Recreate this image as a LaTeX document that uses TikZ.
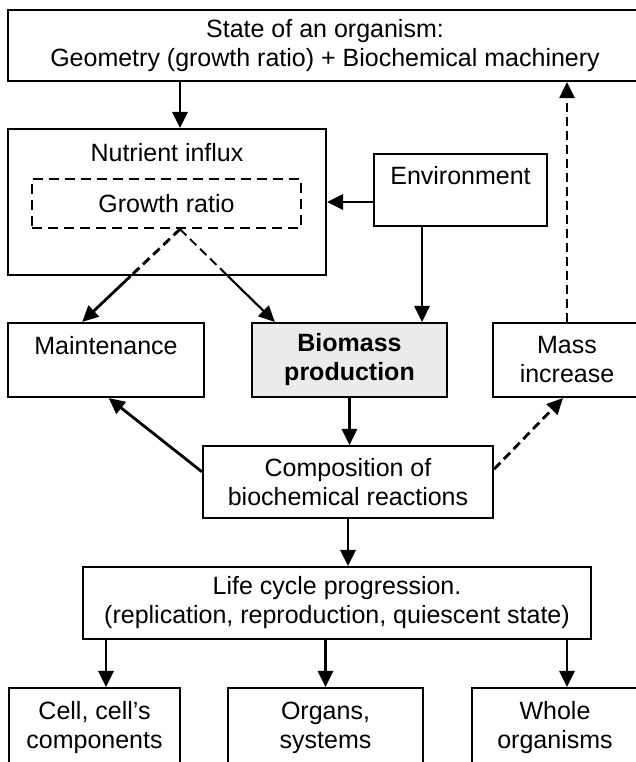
\documentclass[tikz,border=0pt]{standalone}
\usepackage{fontspec}
\setmainfont{Liberation Sans}
\usetikzlibrary{arrows.meta,calc}

\tikzset{
  box/.style={draw, line width=2.1pt, align=center, inner sep=0pt},
  arr/.style={line width=2.8pt, -{Triangle[length=16pt,width=15pt]}},
  dpat/.style={dash pattern=on 9pt off 5pt},
  darr/.style={arr, dpat},
}

\begin{document}
\begin{tikzpicture}[x=1pt,y=-1pt, font=\fontsize{25}{29}\selectfont]
    \useasboundingbox (0,0) rectangle (635,762);

    % top row
    \node[box, minimum width=634pt, minimum height=71pt] (state) at (325,45.5)
        {State of an organism:\\Geometry (growth ratio) + Biochemical machinery};

    % nutrient influx with growth ratio inside
    \node[box, minimum width=318pt, minimum height=146pt] (nut) at (167,202) {};
    \node (nuttxt) at (167,153) {Nutrient influx};
    \node[box, dash pattern=on 10pt off 6pt, line width=2.4pt, minimum width=269pt, minimum height=49pt] (gr) at (166.5,203.5) {Growth ratio};
    \node[box, minimum width=173pt, minimum height=72pt] (env) at (460.5,190) {Environment\\\mbox{}};

    % middle row
    \node[box, minimum width=196pt, minimum height=74pt] (maint) at (106,360) {Maintenance\\\mbox{}};
    \node[box, fill=black!8, font=\fontsize{25}{29}\selectfont\bfseries, minimum width=195pt, minimum height=74pt] (bio) at (349.5,360) {Biomass\\production};
    \node[box, minimum width=148pt, minimum height=74pt] (mass) at (567,360) {Mass\\increase};

    \node[box, minimum width=290pt, minimum height=72pt] (comp) at (348,482) {Composition of\\biochemical reactions};
    \node[box, minimum width=508pt, minimum height=72pt] (life) at (337,603)
        {Life cycle progression.\\(replication, reproduction, quiescent state)};

    % bottom row
    \node[box, minimum width=171pt, minimum height=79pt] (cell) at (94.5,727.5) {Cell, cell’s\\components};
    \node[box, minimum width=195pt, minimum height=79pt] (organ) at (325.5,727.5) {Organs,\\systems};
    \node[box, minimum width=166pt, minimum height=79pt] (whole) at (555,727.5) {Whole\\organisms};

    % connectors
    \coordinate (fork) at ([xshift=13.5pt]gr.south);
    \draw[arr] (state.south -| fork) -- (nut.north -| fork);
    \draw[arr] (env.west |- nut.east) -- (nut.east);
    \draw[arr] ([xshift=-38.5pt]env.south) -- ([xshift=-38.5pt]env.south |- bio.north);

    \coordinate (splitL) at (intersection of fork--maint.122 and nut.south west--nut.south east);
    \coordinate (splitR) at (intersection of fork--bio.153 and nut.south west--nut.south east);
    \draw[line width=2.9pt, dpat] (fork) -- (splitL);
    \draw[arr] (splitL) -- (maint.122);
    \draw[line width=1.9pt, dpat] (fork) -- (splitR);
    \draw[arr, line width=2.1pt] (splitR) -- (bio.153);

    \draw[darr] (mass.north) -- (mass.north |- state.south);
    \draw[arr] (bio.south) -- (bio.south |- comp.north);
    \draw[arr] (comp.176) -- (maint.-86);
    \draw[darr] (comp.5) -- (mass.-96);
    \draw[arr] (comp.south) -- (comp.south |- life.north);

    \foreach \b/\s in {cell/11.5, organ/0, whole/12}
        \draw[arr] ([xshift=\s pt]\b.north |- life.south) -- ([xshift=\s pt]\b.north);
\end{tikzpicture}
\end{document}
